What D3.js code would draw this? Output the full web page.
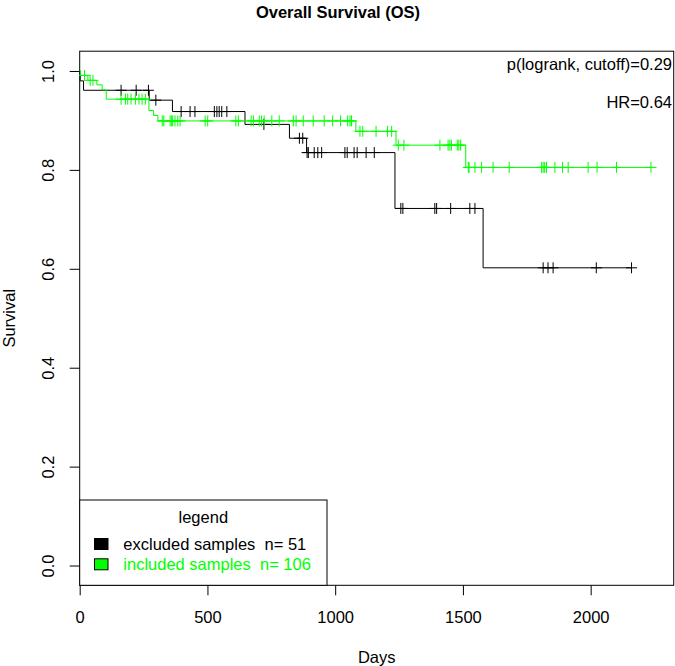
<!DOCTYPE html>
<html>
<head>
<meta charset="utf-8">
<script src="https://cdn.jsdelivr.net/npm/d3@7"></script>
<style>
  html, body { margin: 0; padding: 0; background: #fff; }
  svg { display: block; font-family: "Liberation Sans", Arial, Helvetica, sans-serif; }
  text { white-space: pre; }
</style>
</head>
<body>
<script>
// ---- Data ----
const xTicks = [0, 500, 1000, 1500, 2000];
const yTicks = [0, 0.2, 0.4, 0.6, 0.8, 1.0];
const yTickLabels = ["0.0", "0.2", "0.4", "0.6", "0.8", "1.0"];

// Kaplan-Meier steps: [day, survival after the step]
const excludedSteps = [[0, 1], [2, 0.980], [15, 0.961], [272, 0.941], [363, 0.918], [647, 0.892],
  [821, 0.864], [888, 0.835], [1234, 0.722], [1579, 0.602]];
const excludedEnd = 2160;
const excludedCensor = [162, 221, 269, 298, 397, 432, 451, 527, 537, 546, 556, 576, 721, 860, 873,
  890, 895, 918, 932, 947, 1038, 1047, 1074, 1086, 1121, 1153, 1257, 1265, 1390, 1397, 1452, 1527,
  1547, 1814, 1833, 1853, 2022, 2160];

const includedSteps = [[0, 1], [3, 0.991], [32, 0.981], [67, 0.972], [88, 0.962], [104, 0.943],
  [271, 0.920], [289, 0.910], [306, 0.899], [1081, 0.878], [1238, 0.850], [1511, 0.805]];
const includedEnd = 2236;
const includedCensor = [19, 41, 52, 162, 179, 188, 201, 218, 232, 244, 257, 323, 329, 354, 360, 364,
  373, 384, 393, 491, 501, 611, 621, 671, 680, 703, 712, 722, 752, 781, 836, 847, 875, 914, 957, 990,
  1021, 1049, 1058, 1064, 1097, 1108, 1160, 1205, 1221, 1247, 1269, 1410, 1442, 1449, 1455, 1478,
  1484, 1491, 1521, 1524, 1547, 1573, 1618, 1681, 1808, 1814, 1820, 1827, 1860, 1890, 1912, 1990,
  2025, 2101, 2236];

const seriesNames = ["excluded samples  n= 51", "included samples  n= 106"];
const seriesColors = ["#000000", "#00ff00"];
const titleText = "Overall Survival (OS)";
const pText = "p(logrank, cutoff)=0.29";
const hrText = "HR=0.64";

// ---- Layout ----
const W = 675, H = 666;
const L = 79.7, R = 673.7, T = 51.2, B = 585.3;
const FS = 16.5;

const svg = d3.select("body").append("svg").attr("width", W).attr("height", H);

const x = d3.scaleLinear().domain([0, 2325]).range([L, R]);
const y = d3.scaleLinear().domain([-0.04, 1.04]).range([B, T]);

// Axes
const xAxis = svg.append("g").attr("transform", `translate(0,${B})`)
  .call(d3.axisBottom(x).tickValues(xTicks).tickSize(10).tickFormat(d3.format("d")));
xAxis.select(".domain").remove();
xAxis.selectAll(".tick line").attr("stroke", "#000").attr("stroke-width", 1);
xAxis.selectAll(".tick text").attr("font-size", FS).attr("font-family", "Liberation Sans, Arial, sans-serif")
  .attr("fill", "#000").attr("y", 25.5).attr("dy", "0.71em");

const yAxis = svg.append("g").attr("transform", `translate(${L},0)`)
  .call(d3.axisLeft(y).tickValues(yTicks).tickSize(10).tickFormat((d, i) => yTickLabels[i]));
yAxis.select(".domain").remove();
yAxis.selectAll(".tick line").attr("stroke", "#000").attr("stroke-width", 1);
yAxis.selectAll(".tick text").attr("font-size", FS).attr("font-family", "Liberation Sans, Arial, sans-serif")
  .attr("fill", "#000").attr("text-anchor", "middle")
  .attr("transform", "rotate(-90)").attr("x", 0).attr("y", -(L - 48)).attr("dy", "0.35em");

// Plot box
svg.append("rect").attr("x", L).attr("y", T).attr("width", R - L).attr("height", B - T)
  .attr("fill", "none").attr("stroke", "#000").attr("stroke-width", 1);

// Curves
function survAt(steps, t) {
  let s = steps[0][1];
  for (const [tt, v] of steps) { if (tt <= t) s = v; }
  return s;
}
const line = d3.line().x(d => x(d[0])).y(d => y(d[1])).curve(d3.curveStepAfter);
const series = [
  { steps: excludedSteps, end: excludedEnd, censor: excludedCensor, color: seriesColors[0] },
  { steps: includedSteps, end: includedEnd, censor: includedCensor, color: seriesColors[1] }
];
const M = 5.5;
series.forEach(s => {
  const pts = s.steps.concat([[s.end, s.steps[s.steps.length - 1][1]]]);
  svg.append("path").datum(pts).attr("d", line).attr("fill", "none")
    .attr("stroke", s.color).attr("stroke-width", 1);
  svg.append("g").selectAll("path").data(s.censor).join("path")
    .attr("d", t => {
      const cx = x(t), cy = y(survAt(s.steps, t));
      return `M${cx - M},${cy}H${cx + M}M${cx},${cy - M}V${cy + M}`;
    })
    .attr("stroke", s.color).attr("stroke-width", 1).attr("fill", "none");
});

// Title and labels
svg.append("text").attr("x", 338).attr("y", 12).attr("dy", "0.35em").attr("text-anchor", "middle")
  .attr("font-size", 16.5).attr("font-weight", "bold").text(titleText);
svg.append("text").attr("x", (L + R) / 2).attr("y", 657).attr("dy", "0.35em").attr("text-anchor", "middle")
  .attr("font-size", FS).text("Days");
svg.append("text").attr("transform", `translate(9,${(T + B) / 2}) rotate(-90)`).attr("dy", "0.35em")
  .attr("text-anchor", "middle").attr("font-size", FS).text("Survival");

svg.append("text").attr("x", 672).attr("y", 64).attr("dy", "0.35em").attr("text-anchor", "end")
  .attr("font-size", FS).text(pText);
svg.append("text").attr("x", 672).attr("y", 102).attr("dy", "0.35em").attr("text-anchor", "end")
  .attr("font-size", FS).text(hrText);

// Legend
const lg = svg.append("g");
lg.append("rect").attr("x", L).attr("y", 500).attr("width", 327 - L).attr("height", B - 500)
  .attr("fill", "#fff").attr("stroke", "#000").attr("stroke-width", 1);
lg.append("text").attr("x", 203.3).attr("y", 517).attr("dy", "0.35em").attr("text-anchor", "middle")
  .attr("font-size", FS).text("legend");
const rowY = [544, 564.3];
seriesNames.forEach((name, i) => {
  lg.append("rect").attr("x", 94.5).attr("y", rowY[i] - 5.5).attr("width", 13.5).attr("height", 11)
    .attr("fill", seriesColors[i]).attr("stroke", "#000").attr("stroke-width", 1);
  lg.append("text").attr("x", 123.3).attr("y", rowY[i]).attr("dy", "0.35em")
    .attr("font-size", FS).attr("fill", seriesColors[i]).attr("xml:space", "preserve").text(name);
});
</script>
</body>
</html>
